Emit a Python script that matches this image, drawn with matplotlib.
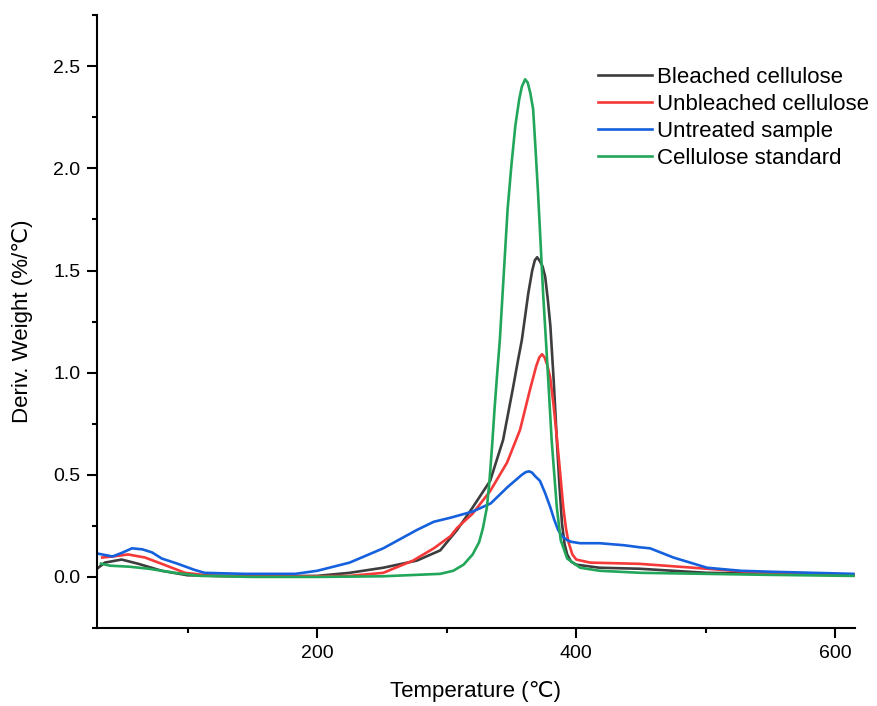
import matplotlib.pyplot as plt
from matplotlib.ticker import MultipleLocator

plt.rcParams['font.family'] = ['Liberation Sans', 'DejaVu Sans']

# DTG curves
t_bleached = [30, 36, 49, 62, 80, 100, 150, 200, 225, 251, 277, 295, 308, 320, 333.5, 343.5,
              351, 355, 358, 363, 366, 368, 369.8, 372, 374, 376, 378, 380, 382.5, 385, 387, 389,
              391, 393, 396, 400, 418, 449, 501, 552, 614]
v_bleached = [0.04, 0.07, 0.085, 0.064, 0.03, 0.008, 0.003, 0.005, 0.02, 0.045, 0.08, 0.13, 0.23, 0.34,
              0.47, 0.67, 0.92, 1.06, 1.16, 1.39, 1.50, 1.55, 1.565, 1.545, 1.52, 1.47, 1.36, 1.23,
              0.97, 0.67, 0.45, 0.26, 0.16, 0.11, 0.075, 0.06, 0.045, 0.04, 0.02, 0.015, 0.008]

t_unbleached = [34, 42, 54, 67, 80, 98, 119, 150, 200, 225, 251, 274, 290, 303, 308, 320, 333.5, 346.6,
                356.6, 364.4, 369, 371.5, 373.6, 375.5, 377.5, 379.8, 382.5, 385.2, 388, 390, 392, 394,
                397, 400, 410.7, 449, 501, 552, 614]
v_unbleached = [0.095, 0.10, 0.11, 0.095, 0.064, 0.02, 0.005, 0.002, 0.003, 0.005, 0.02, 0.08, 0.14, 0.2,
                0.24, 0.31, 0.42, 0.56, 0.72, 0.92, 1.03, 1.075, 1.09, 1.075, 1.04, 0.98, 0.84, 0.67,
                0.48, 0.34, 0.24, 0.17, 0.11, 0.085, 0.07, 0.064, 0.04, 0.015, 0.01]

t_untreated = [30, 34, 42, 50, 57, 65, 72.5, 80, 92.5, 105, 113, 144, 183, 200, 225, 251, 277, 290, 303,
               320, 334, 347, 358, 361, 363.6, 366, 368, 372, 376, 380, 383, 386, 389, 393, 396, 403,
               418, 437, 449, 457, 475, 501, 527, 552, 614]
v_untreated = [0.115, 0.11, 0.10, 0.12, 0.14, 0.135, 0.12, 0.09, 0.064, 0.035, 0.02, 0.015, 0.015, 0.03,
               0.07, 0.14, 0.23, 0.27, 0.29, 0.32, 0.36, 0.44, 0.50, 0.513, 0.517, 0.51, 0.495, 0.47,
               0.41, 0.34, 0.28, 0.23, 0.20, 0.18, 0.172, 0.165, 0.165, 0.155, 0.145, 0.14, 0.095,
               0.045, 0.03, 0.025, 0.015]

t_standard = [33, 40, 55, 70, 90, 110, 150, 200, 250, 295, 305, 313, 320, 325, 328, 331, 333, 335, 337,
              339, 341, 344, 347, 350, 353, 356, 358, 360.5, 362.5, 364.5, 366.7, 368.5, 370.5, 372.5,
              374.4, 377.5, 381, 385, 388, 393, 403, 418, 450, 500, 550, 614]
v_standard = [0.065, 0.055, 0.05, 0.04, 0.02, 0.005, 0.0, 0.0, 0.003, 0.015, 0.03, 0.06, 0.11, 0.17,
              0.24, 0.34, 0.47, 0.64, 0.83, 1.0, 1.16, 1.48, 1.80, 2.02, 2.21, 2.34, 2.40, 2.436, 2.42,
              2.37, 2.29, 2.10, 1.88, 1.63, 1.39, 1.06, 0.67, 0.34, 0.18, 0.09, 0.045, 0.03, 0.02,
              0.015, 0.01, 0.005]

series = [
    ('Bleached cellulose', t_bleached, v_bleached, '#3d3d3d'),
    ('Unbleached cellulose', t_unbleached, v_unbleached, '#f53838'),
    ('Untreated sample', t_untreated, v_untreated, '#1560dc'),
    ('Cellulose standard', t_standard, v_standard, '#22a65a'),
]

fig = plt.figure(figsize=(8.78, 7.06), dpi=100)
ax = fig.add_axes([0.1105, 0.1105, 0.863, 0.868])

for name, t, v, c in series:
    ax.plot(t, v, color=c, lw=1.9, label=name)

ax.set_xlim(30, 615)
ax.set_ylim(-0.25, 2.75)
ax.xaxis.set_major_locator(MultipleLocator(200))
ax.xaxis.set_minor_locator(MultipleLocator(100))
ax.yaxis.set_major_locator(MultipleLocator(0.5))
ax.yaxis.set_minor_locator(MultipleLocator(0.25))

ax.spines['top'].set_visible(False)
ax.spines['right'].set_visible(False)
for s in ('left', 'bottom'):
    ax.spines[s].set_linewidth(1.5)

ax.tick_params(which='major', direction='out', length=7, width=1.5, labelsize=14, pad=5)
ax.tick_params(which='minor', direction='out', length=3.5, width=1.5)

ax.set_xlabel('Temperature (℃)', fontsize=16, labelpad=14)
ax.set_ylabel('Deriv. Weight (%/℃)', fontsize=16)
ax.yaxis.set_label_coords(-0.084, 0.5)

ax.legend(loc='upper left', bbox_to_anchor=(589 / 878, 1 - 58 / 706), bbox_transform=fig.transFigure,
          borderaxespad=0, frameon=False, fontsize=16,
          handlelength=2.43, handletextpad=0.23, labelspacing=0.27)

fig.savefig('out.png', dpi=100)
